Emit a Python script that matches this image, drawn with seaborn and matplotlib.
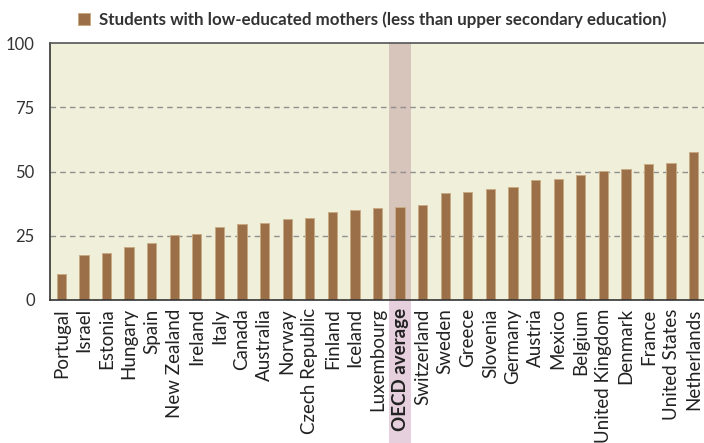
import numpy as np
import pandas as pd
import seaborn as sns
import matplotlib
matplotlib.use('Agg')
import matplotlib.pyplot as plt
from matplotlib.patches import Rectangle

# Veriler
countries = ["Portugal", "Israel", "Estonia", "Hungary", "Spain", "New Zealand",
             "Ireland", "Italy", "Canada", "Australia", "Norway", "Czech Republic",
             "Finland", "Iceland", "Luxembourg", "OECD average", "Switzerland",
             "Sweden", "Greece", "Slovenia", "Germany", "Austria", "Mexico",
             "Belgium", "United Kingdom", "Denmark", "France", "United States",
             "Netherlands"]
values = [10.2, 17.4, 18.3, 20.6, 22.2, 25.1, 25.6, 28.3, 29.7, 30.0, 31.4, 32.1,
          34.3, 35.0, 35.7, 36.1, 36.9, 41.6, 42.0, 43.1, 43.9, 46.5, 47.0, 48.6,
          50.1, 50.9, 53.0, 53.5, 57.5]
yticks = [0, 25, 50, 75, 100]
legend_label = "Students with low-educated mothers (less than upper secondary education)"

df = pd.DataFrame({"country": countries, "value": values})
oecd_idx = countries.index("OECD average")

sns.set_style("white")
plt.rcParams['font.family'] = ['Lato', 'DejaVu Sans']

fig = plt.figure(figsize=(7.04, 4.43), dpi=100)
ax = fig.add_axes([50 / 704, 1 - 300 / 443, 655 / 704, 257 / 443])
ax.set_facecolor("#f0efda")

# OECD ortalaması için vurgulu şerit
ax.axvspan(oecd_idx - 0.5, oecd_idx + 0.5, color="#d7c4bb", zorder=0.5, lw=0)

for y in [25, 50, 75]:
    ax.axhline(y, color="#8f8f8f", lw=1, ls=(0, (4, 3)), zorder=0.8)

sns.barplot(data=df, x="country", y="value", color="#9b7048", saturation=1,
            width=0.41, edgecolor="#c8aa84", linewidth=0.7, ax=ax, zorder=2,
            label=legend_label)

ax.set_xlim(-0.5, len(countries) - 0.5)
ax.set_ylim(0, 100)
ax.set_yticks(yticks)
ax.set_yticklabels([str(t) for t in yticks], fontsize=12, color="#333333")
ax.set_xlabel("")
ax.set_ylabel("")

# x ekseni: etiketler ortada, çentikler sınırlarda
ax.set_xticks(range(len(countries)))
ax.set_xticklabels(countries, rotation=90, fontsize=13.5, color="#222222")
ax.set_xticks(np.arange(-0.5, len(countries)), minor=True)
ax.tick_params(axis="x", which="major", length=0, pad=6)
ax.tick_params(axis="x", which="minor", length=4, width=1, color="#333333", direction="out")
ax.tick_params(axis="y", length=4, width=1, color="#333333", direction="out", pad=7)
for lbl in ax.get_xticklabels():
    if lbl.get_text() == "OECD average":
        lbl.set_fontweight("bold")

# etiketin arka planı
ax.add_patch(Rectangle((oecd_idx - 0.5, -0.6), 1, 0.6, transform=ax.get_xaxis_transform(),
                       color="#e6d0dd", clip_on=False, zorder=0, lw=0))

for side in ["left", "bottom", "top"]:
    ax.spines[side].set_visible(True)
    ax.spines[side].set_color("#333333")
    ax.spines[side].set_linewidth(1.2)
ax.spines["top"].set_color("#555555")
ax.spines["right"].set_visible(False)

leg = ax.legend(loc="lower center", bbox_to_anchor=(0.492, 1.025), frameon=False,
                handlelength=0.7, handleheight=0.7, handletextpad=0.55, borderpad=0,
                prop={"family": ["Lato", "DejaVu Sans"], "weight": "bold", "size": 12.2})
for t in leg.get_texts():
    t.set_color("#333333")

fig.savefig("out.png", dpi=100)
